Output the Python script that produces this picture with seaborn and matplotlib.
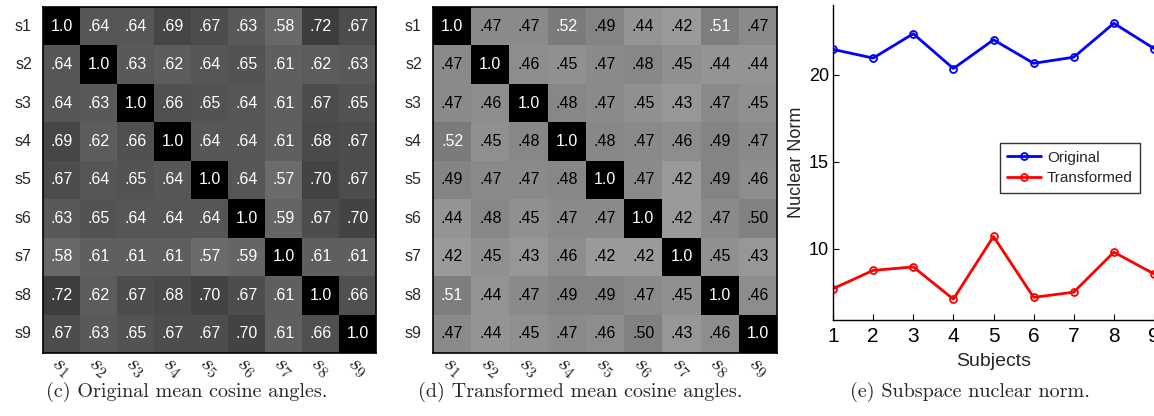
import numpy as np
import pandas as pd
import matplotlib
matplotlib.use("Agg")
import matplotlib.pyplot as plt
import seaborn as sns

# ==================================
# DATA
# ==================================

subjects = ["s1", "s2", "s3", "s4", "s5", "s6", "s7", "s8", "s9"]
x_tick_labels = [r"$s_{%d}$" % i for i in range(1, 10)]

original_cos = [
    [1.00, .64, .64, .69, .67, .63, .58, .72, .67],
    [.64, 1.00, .63, .62, .64, .65, .61, .62, .63],
    [.64, .63, 1.00, .66, .65, .64, .61, .67, .65],
    [.69, .62, .66, 1.00, .64, .64, .61, .68, .67],
    [.67, .64, .65, .64, 1.00, .64, .57, .70, .67],
    [.63, .65, .64, .64, .64, 1.00, .59, .67, .70],
    [.58, .61, .61, .61, .57, .59, 1.00, .61, .61],
    [.72, .62, .67, .68, .70, .67, .61, 1.00, .66],
    [.67, .63, .65, .67, .67, .70, .61, .66, 1.00],
]

transformed_cos = [
    [1.00, .47, .47, .52, .49, .44, .42, .51, .47],
    [.47, 1.00, .46, .45, .47, .48, .45, .44, .44],
    [.47, .46, 1.00, .48, .47, .45, .43, .47, .45],
    [.52, .45, .48, 1.00, .48, .47, .46, .49, .47],
    [.49, .47, .47, .48, 1.00, .47, .42, .49, .46],
    [.44, .48, .45, .47, .47, 1.00, .42, .47, .50],
    [.42, .45, .43, .46, .42, .42, 1.00, .45, .43],
    [.51, .44, .47, .49, .49, .47, .45, 1.00, .46],
    [.47, .44, .45, .47, .46, .50, .43, .46, 1.00],
]

subject_ids = [1, 2, 3, 4, 5, 6, 7, 8, 9]
norm_original = [21.45, 20.95, 22.35, 20.35, 22.0, 20.65, 21.0, 22.95, 21.5]
norm_transformed = [7.7, 8.75, 8.95, 7.1, 10.7, 7.2, 7.5, 9.8, 8.55]

# ==================================
# STYLE
# ==================================

sns.set_theme(style="white")
plt.rcParams["font.family"] = ["Liberation Sans", "DejaVu Sans"]
plt.rcParams["mathtext.fontset"] = "cm"

serif = ["cmr10", "Liberation Serif"]

fig = plt.figure(figsize=(11.54, 4.16), dpi=100)
W, H = 1154, 416


def px_axes(left, top, right, bottom):
    return fig.add_axes([left / W, 1 - bottom / H, (right - left) / W, (bottom - top) / H])


def draw_matrix(ax, values):
    df = pd.DataFrame(values, index=subjects, columns=subjects)
    labels = [["1.0" if v >= 0.999 else f"{v:.2f}"[1:] for v in row] for row in values]
    sns.heatmap(
        df,
        ax=ax,
        cmap="gray_r",
        vmin=0.09,
        vmax=0.92,
        annot=np.array(labels),
        fmt="",
        cbar=False,
        annot_kws={"fontsize": 11.5},
    )
    flat = np.array(values).ravel()
    for txt, v in zip(ax.texts, flat):
        txt.set_color("white" if v > 0.505 else "black")
    ax.tick_params(axis="y", length=0, pad=8)
    ax.tick_params(axis="x", length=0, pad=10)
    pos = np.arange(len(subjects)) + 0.5
    ax.set_xticks(pos)
    ax.set_xticklabels(x_tick_labels, rotation=-40, ha="center", va="center",
                       rotation_mode="anchor", fontsize=16)
    ax.set_yticks(pos)
    ax.set_yticklabels(subjects, rotation=0, fontsize=11.5)
    for s in ax.spines.values():
        s.set_visible(True)
        s.set_color("black")
        s.set_linewidth(1.2)


# ==================================
# HEATMAPS
# ==================================

ax1 = px_axes(43, 7, 376, 353)
draw_matrix(ax1, original_cos)

ax2 = px_axes(433, 7, 777, 353)
draw_matrix(ax2, transformed_cos)

# ==================================
# NUCLEAR NORM
# ==================================

ax3 = px_axes(833, 5, 1154, 320)
sns.lineplot(x=subject_ids, y=norm_original, ax=ax3, color="#0000ff", lw=2,
             marker="o", markersize=5, markerfacecolor="none",
             markeredgecolor="#0000ff", markeredgewidth=1.3, label="Original")
sns.lineplot(x=subject_ids, y=norm_transformed, ax=ax3, color="#ff0000", lw=2,
             marker="o", markersize=5, markerfacecolor="none",
             markeredgecolor="#ff0000", markeredgewidth=1.3, label="Transformed")
ax3.set_xlim(1, 9)
ax3.set_ylim(5.9, 24.0)
for s in ["top", "right"]:
    ax3.spines[s].set_visible(False)
for s in ["left", "bottom"]:
    ax3.spines[s].set_color("black")
    ax3.spines[s].set_linewidth(1.0)
ax3.tick_params(direction="in", length=4, width=0.8, colors="black",
                left=True, bottom=True)
ax3.tick_params(axis="x", pad=5, labelsize=15)
ax3.tick_params(axis="y", pad=3, labelsize=13)
ax3.set_xticks(subject_ids)
ax3.set_yticks([10, 15, 20])
ax3.set_xlabel("Subjects", fontsize=14, labelpad=5)
ax3.set_ylabel("Nuclear Norm", fontsize=13, labelpad=3)

leg = ax3.legend(loc="center", bbox_to_anchor=(1070 / W, 1 - 168 / H),
                 bbox_transform=fig.transFigure, fancybox=False, frameon=True,
                 edgecolor="black", prop={"size": 11},
                 handlelength=2.2, borderpad=0.5, labelspacing=0.45,
                 handletextpad=0.4, borderaxespad=0)
leg.get_frame().set_linewidth(1.0)

# ==================================
# CAPTIONS
# ==================================

cap_y = 1 - 392 / H
fig.text(187 / W, cap_y, "(c) Original mean cosine angles.", ha="center",
         va="center", fontsize=14.5, fontfamily=serif)
fig.text(580 / W, cap_y, "(d) Transformed mean cosine angles.", ha="center",
         va="center", fontsize=14.5, fontfamily=serif)
fig.text(970 / W, cap_y, "(e) Subspace nuclear norm.", ha="center",
         va="center", fontsize=14.5, fontfamily=serif)

fig.savefig("out.png", dpi=100)
